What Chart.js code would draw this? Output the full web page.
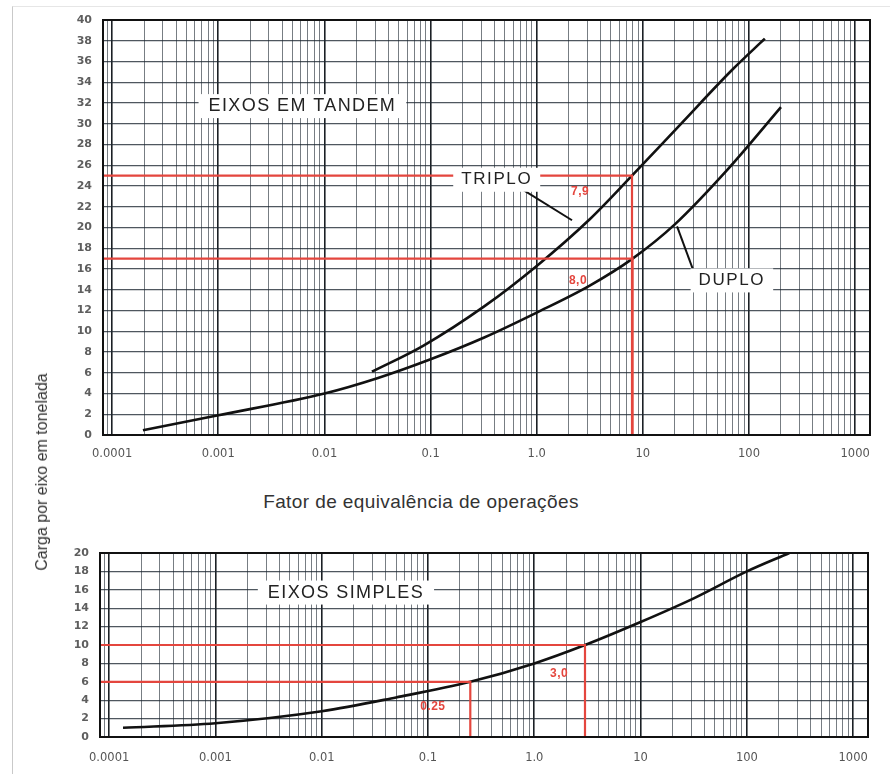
<!DOCTYPE html>
<html>
<head>
<meta charset="utf-8">
<script src="https://cdn.jsdelivr.net/npm/chart.js@4.4.1/dist/chart.umd.min.js"></script>
<style>
  body { margin: 0; background: #fff; font-family: 'Liberation Sans', Arial, sans-serif; }
  #page { position: relative; width: 890px; height: 774px; overflow: hidden; background: #fff; }
  #frame { position: absolute; left: 12px; top: 6px; width: 900px; height: 800px; border-left: 1px solid #c9c9c9; border-top: 1px solid #e6e6e6; }
  canvas { position: absolute; left: 0; }
  #top { top: 0; }
  #bottom { top: 530px; }
  #ytitle { position: absolute; left: 42px; top: 472px; transform: translate(-50%, -50%) rotate(-90deg); font-size: 16px; color: #333; white-space: nowrap; }
  #xtitle { position: absolute; left: 421px; top: 502px; transform: translate(-50%, -50%); font-size: 19px; letter-spacing: 0.4px; color: #333; white-space: nowrap; }
</style>
</head>
<body>
<div id="page">
  <div id="frame"></div>
  <canvas id="top" width="890" height="480"></canvas>
  <canvas id="bottom" width="890" height="244"></canvas>
  <div id="ytitle">Carga por eixo em tonelada</div>
  <div id="xtitle">Fator de equivalência de operações</div>
</div>
<script>
// x axis (log) range and decade labels
var xMin = 0.000082, xMax = 1380;
var xTickValues = [0.0001, 0.001, 0.01, 0.1, 1, 10, 100, 1000];
var xTickLabels = ['0.0001', '0.001', '0.01', '0.1', '1.0', '10', '100', '1000'];

// eixos em tandem
var tandemYMax = 40;
var triploX = [0.028, 0.085, 0.32, 1.0, 3.16, 7.9, 22.4, 71, 141];
var triploY = [6.1, 8.6, 12.4, 16.3, 20.8, 25.0, 29.9, 35.3, 38.2];
var duploX = [0.000195, 0.001, 0.01, 0.032, 0.1, 0.32, 1.0, 3.16, 8.0, 20, 63, 200];
var duploY = [0.45, 1.9, 4.0, 5.5, 7.3, 9.4, 11.8, 14.4, 17.0, 20.3, 25.6, 31.6];
var tandemRefX = [7.9, 8.0];
var tandemRefY = [25, 17];
var tandemRefLabels = ['7,9', '8,0'];
var tandemRefLabelX = [2.56, 2.45];
var tandemRefLabelY = [23.5, 14.9];
var tandemNotes = ['EIXOS EM TANDEM', 'TRIPLO', 'DUPLO'];
var tandemNoteX = [0.0062, 0.42, 69];
var tandemNoteY = [31.7, 24.6, 14.9];
var leaderX = [[0.70, 2.15], [21, 29.8]];
var leaderY = [[23.8, 20.7], [20.1, 15.9]];

// eixos simples
var simplesYMax = 20;
var simplesX = [0.000135, 0.001, 0.01, 0.05, 0.25, 1.0, 3.0, 10, 32, 100, 251];
var simplesY = [1.0, 1.5, 2.8, 4.3, 6.0, 8.0, 10.0, 12.5, 15.1, 18.0, 20.0];
var simplesRefX = [0.25, 3.0];
var simplesRefY = [6, 10];
var simplesRefLabels = ['0.25', '3,0'];
var simplesRefLabelX = [0.111, 1.71];
var simplesRefLabelY = [3.3, 6.9];
var simplesNotes = ['EIXOS SIMPLES'];
var simplesNoteX = [0.0169];
var simplesNoteY = [15.7];

var RED = '#e4463e';
var INK = '#111';
var SANS = '"Liberation Sans", Arial, sans-serif';

Chart.defaults.font.family = SANS;
Chart.defaults.animation = false;

function isDecade(v) {
  var l = Math.log10(v);
  return Math.abs(l - Math.round(l)) < 1e-6;
}

function pts(xs, ys) {
  return xs.map(function(x, i) { return { x: x, y: ys[i] }; });
}

function curve(label, xs, ys) {
  return {
    label: label, data: pts(xs, ys), borderColor: INK, borderWidth: 2.6,
    pointRadius: 0, cubicInterpolationMode: 'monotone', fill: false
  };
}

function refLine(x, y) {
  return {
    label: 'ref', data: [{ x: xMin, y: y }, { x: x, y: y }, { x: x, y: 0 }],
    borderColor: RED, borderWidth: 2.2, pointRadius: 0, tension: 0, fill: false
  };
}

function thin(xs, ys) {
  return {
    label: 'leader', data: pts(xs, ys), borderColor: INK, borderWidth: 2,
    pointRadius: 0, tension: 0, fill: false
  };
}

function xAxis(height, pad) {
  return {
    type: 'logarithmic', min: xMin, max: xMax, bounds: 'data',
    afterBuildTicks: function(scale) {
      var t = [];
      for (var e = -5; e <= 3; e++) {
        for (var m = 1; m <= 9; m++) {
          var v = parseFloat((m * Math.pow(10, e)).toPrecision(3));
          if (v >= xMin && v <= xMax) t.push({ value: v });
        }
      }
      scale.ticks = t;
    },
    afterFit: function(scale) { scale.height = height; },
    grid: {
      drawTicks: false,
      color: function(c) { return c.tick && isDecade(c.tick.value) ? 'rgba(15,20,25,0.95)' : 'rgba(35,45,55,0.62)'; },
      lineWidth: function(c) { return c.tick && isDecade(c.tick.value) ? 1.6 : 1; }
    },
    border: { color: INK, width: 2 },
    ticks: {
      autoSkip: false, maxRotation: 0, padding: pad, color: '#555',
      font: { family: '"DejaVu Sans", sans-serif', size: 11.5 },
      callback: function(v) {
        for (var i = 0; i < xTickValues.length; i++) {
          if (Math.abs(v / xTickValues[i] - 1) < 1e-6) return xTickLabels[i];
        }
        return '';
      }
    }
  };
}

function yAxis(max, width) {
  return {
    min: 0, max: max,
    afterFit: function(scale) { scale.width = width; },
    grid: { drawTicks: false, color: 'rgba(30,40,50,0.78)', lineWidth: 1.2 },
    border: { color: INK, width: 2 },
    ticks: {
      stepSize: 2, padding: 11, color: '#5e5e5e',
      font: { family: '"DejaVu Sans", sans-serif', size: 11, weight: 'bold' }
    }
  };
}

// frame + text notes drawn through the chart scales
var notesPlugin = {
  id: 'notes',
  afterDatasetsDraw: function(chart, args, opts) {
    var ctx = chart.ctx, a = chart.chartArea;
    var sx = chart.scales.x, sy = chart.scales.y;
    ctx.save();
    ctx.strokeStyle = INK;
    ctx.lineWidth = 2;
    ctx.strokeRect(a.left, a.top, a.right - a.left, a.bottom - a.top);
    ctx.textAlign = 'center';
    ctx.textBaseline = 'middle';
    (opts.items || []).forEach(function(it) {
      var px = sx.getPixelForValue(it.x), py = sy.getPixelForValue(it.y);
      ctx.font = it.font;
      ctx.letterSpacing = it.spacing || '0px';
      var w = ctx.measureText(it.text).width;
      if (it.bg) {
        ctx.fillStyle = '#fff';
        ctx.fillRect(px - w / 2 - it.bg, py - 12, w + it.bg * 2, 24);
      }
      ctx.fillStyle = it.color;
      ctx.fillText(it.text, px, py);
    });
    ctx.restore();
  }
};

function noteItems(texts, xs, ys, font, spacing, color, bg) {
  return texts.map(function(t, i) {
    return { text: t, x: xs[i], y: ys[i], font: font, spacing: spacing, color: color, bg: bg };
  });
}

var topItems = noteItems(tandemNotes, tandemNoteX, tandemNoteY, '17px ' + SANS, '1.6px', '#222', 8)
  .concat(noteItems(tandemRefLabels, tandemRefLabelX, tandemRefLabelY, 'bold 12px ' + SANS, '0.5px', RED, 0));
topItems[0].font = '18px ' + SANS;
topItems[0].spacing = '1.4px';
topItems[0].bg = 10;

new Chart(document.getElementById('top'), {
  type: 'line',
  data: {
    datasets: [
      refLine(tandemRefX[0], tandemRefY[0]),
      refLine(tandemRefX[1], tandemRefY[1]),
      curve('TRIPLO', triploX, triploY),
      curve('DUPLO', duploX, duploY),
      thin(leaderX[0], leaderY[0]),
      thin(leaderX[1], leaderY[1])
    ]
  },
  options: {
    responsive: false,
    layout: { padding: { top: 20, right: 20, left: 0, bottom: 0 } },
    plugins: { legend: { display: false }, tooltip: { enabled: false }, notes: { items: topItems } },
    scales: { x: xAxis(45, 12), y: yAxis(tandemYMax, 103) }
  },
  plugins: [notesPlugin]
});

var bottomItems = noteItems(simplesNotes, simplesNoteX, simplesNoteY, '18px ' + SANS, '1.4px', '#222', 10)
  .concat(noteItems(simplesRefLabels, simplesRefLabelX, simplesRefLabelY, 'bold 12px ' + SANS, '0.5px', RED, 0));

new Chart(document.getElementById('bottom'), {
  type: 'line',
  data: {
    datasets: [
      refLine(simplesRefX[0], simplesRefY[0]),
      refLine(simplesRefX[1], simplesRefY[1]),
      curve('SIMPLES', simplesX, simplesY)
    ]
  },
  options: {
    responsive: false,
    layout: { padding: { top: 23, right: 22, left: 0, bottom: 0 } },
    plugins: { legend: { display: false }, tooltip: { enabled: false }, notes: { items: bottomItems } },
    scales: { x: xAxis(37, 14), y: yAxis(simplesYMax, 100) }
  },
  plugins: [notesPlugin]
});
</script>
</body>
</html>
